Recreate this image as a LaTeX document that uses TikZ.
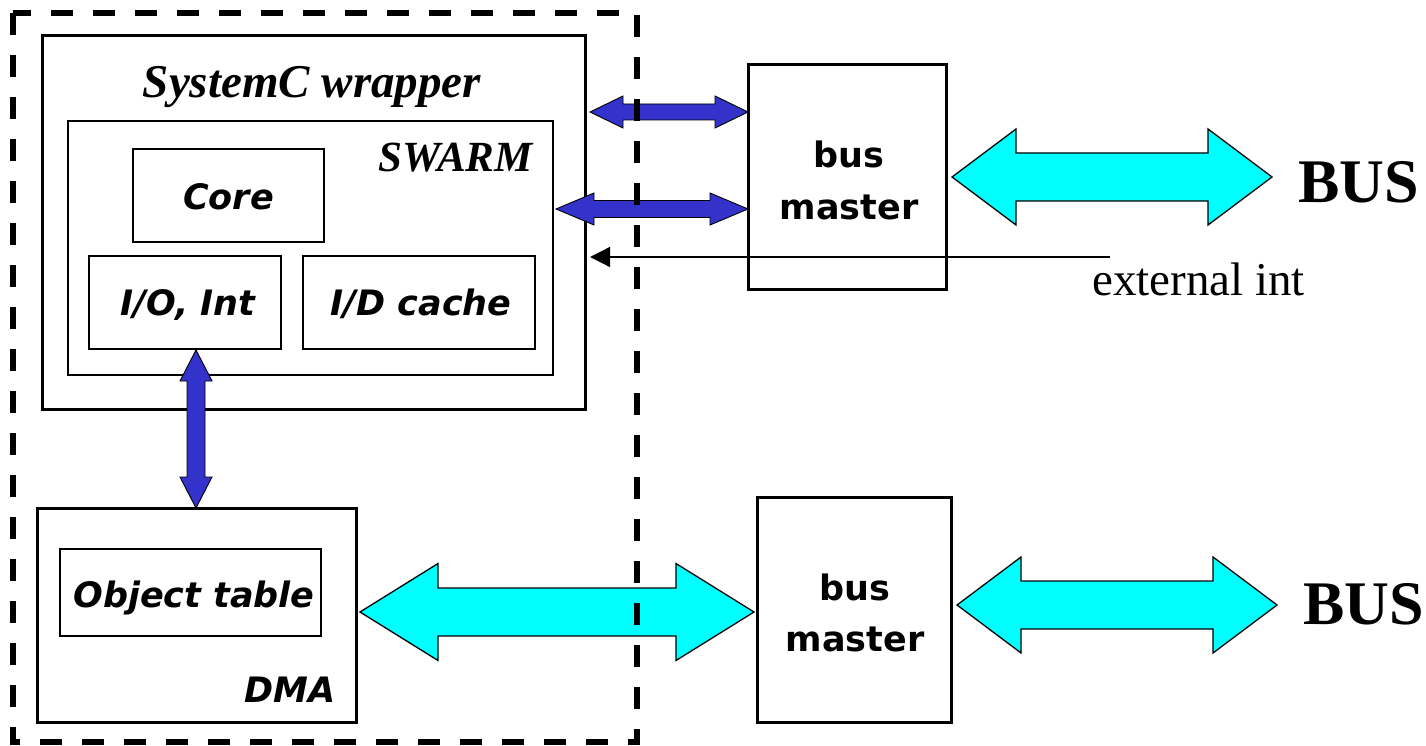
\documentclass[tikz,border=0pt]{standalone}
\usepackage{fontspec}
\setmainfont{Liberation Serif}
\newfontfamily\verd{DejaVu Sans}
\usetikzlibrary{calc,arrows.meta}
\definecolor{busblue}{HTML}{3333CC}
\definecolor{buscyan}{HTML}{00FFFF}

% horizontal double block arrow: left tip, right tip, head length, head half-height, shaft half-height, style
\newcommand\harrow[6]{%
  \draw[#6] (#1) -- ++(#3,#4) -- ++(0,{#5-#4}) -- ($(#2)+(-#3,#5)$) -- ++(0,{#4-#5})
    -- (#2) -- ++(-#3,-#4) -- ++(0,{#4-#5}) -- ($(#1)+(#3,-#5)$) -- ++(0,{#5-#4}) -- cycle;}
% vertical double block arrow: top tip, bottom tip, head length, head half-width, shaft half-width, style
\newcommand\varrow[6]{%
  \draw[#6] (#1) -- ++(#4,-#3) -- ++({#5-#4},0) -- ($(#2)+(#5,#3)$) -- ++({#4-#5},0)
    -- (#2) -- ++(-#4,#3) -- ++({#4-#5},0) -- ($(#1)+(-#5,-#3)$) -- ++({#5-#4},0) -- cycle;}

\tikzset{
  thickbox/.style={draw, line width=3pt, anchor=north west, inner sep=0pt, outer sep=0pt},
  thinbox/.style={draw, line width=1.3pt, anchor=north west, inner sep=0pt, outer sep=0pt},
  verdlabel/.style={font=\verd\bfseries\itshape\fontsize{35}{38}\selectfont, inner sep=0pt},
  masterlabel/.style={font=\verd\bfseries\fontsize{35}{50}\selectfont, inner sep=0pt, align=center},
  timeslabel/.style={font=\bfseries\itshape\fontsize{47}{50}\selectfont, inner sep=0pt},
  buslabel/.style={font=\bfseries\fontsize{62}{66}\selectfont, inner sep=0pt},
  bluearrow/.style={fill=busblue, draw=black, line width=0.9pt, line join=miter},
  cyanarrow/.style={fill=buscyan, draw=black, line width=1.3pt, line join=miter},
  frame/.style={draw, line width=5.5pt, dash pattern=on 22pt off 20pt},
}

\begin{document}
\begin{tikzpicture}[x=1pt,y=1pt]
\useasboundingbox (0,0) rectangle (1426,-746);

% boxes
\node[thickbox, minimum width=543, minimum height=373] (wrap) at (42,-36) {};
\node[thinbox, minimum width=485, minimum height=254] (swarm) at (68,-121) {};
\node[thinbox, minimum width=191, minimum height=93] (core) at (133,-149) {};
\node[thinbox, minimum width=192, minimum height=93] (io) at (89,-256) {};
\node[thinbox, minimum width=232, minimum height=93] (cache) at (303,-256) {};
\node[thickbox, minimum width=319, minimum height=214] (dma) at (37,-508) {};
\node[thinbox, minimum width=261, minimum height=87] (objtab) at (60,-549) {};
\node[thickbox, minimum width=198, minimum height=224] (bm1) at (748,-65) {};
\node[thickbox, minimum width=194, minimum height=225] (bm2) at (757,-497) {};

% labels
\node[timeslabel, anchor=base] (wraplbl) at (312,-98) {SystemC wrapper};
\node[timeslabel, font=\bfseries\itshape\fontsize{43}{45}\selectfont, anchor=base east] (swarmlbl) at (533,-172) {SWARM};
\node[verdlabel, anchor=base] (corelbl) at (core.center |- 0,-210) {Core};
\node[verdlabel, anchor=base] (iolbl) at (188,-315) {I/O, Int};
\node[verdlabel, anchor=base] (cachelbl) at (421,-315) {I/D cache};
\node[verdlabel, anchor=base] (objlbl) at (194,-607) {Object table};
\node[verdlabel, anchor=base east] (dmalbl) at (336,-702) {DMA};
\node[masterlabel, anchor=base] (bm1a) at (849,-168) {bus};
\node[masterlabel, anchor=base] (bm1b) at (849,-219) {master};
\node[masterlabel, anchor=base] (bm2a) at (855,-600) {bus};
\node[masterlabel, anchor=base] (bm2b) at (855,-651) {master};
\node[buslabel, anchor=base west] (bus1) at (1298,-202) {BUS};
\node[buslabel, anchor=base west] (bus2) at (1303,-624) {BUS};
\node[font=\fontsize{47}{50}\selectfont, inner sep=0pt, anchor=base west] (extlbl) at (1092,-295) {external int};

% connector end points
\coordinate (a1l) at (590,-112);
\coordinate (a1r) at (bm1.west |- a1l);
\coordinate (a2l) at (556,-209);
\coordinate (a2r) at (bm1.west |- a2l);
\coordinate (vt) at (196,-350);
\coordinate (vb) at (dma.north -| vt);
\coordinate (c1l) at (952,-177);
\coordinate (c1r) at (1272,-177);
\coordinate (c2l) at (360,-612);
\coordinate (c2r) at (754,-612);
\coordinate (c3l) at (957,-605);
\coordinate (c3r) at (1277,-605);
\coordinate (intsrc) at (1110,-257);
\coordinate (intdst) at (590,-257);

% block arrows
\harrow{a1l}{a1r}{33}{16}{8}{bluearrow}
\harrow{a2l}{a2r}{38}{16}{8.5}{bluearrow}
\varrow{vt}{vb}{31}{16}{9}{bluearrow}
\harrow{c1l}{c1r}{64}{48}{24}{cyanarrow}
\harrow{c2l}{c2r}{78}{48.5}{24}{cyanarrow}
\harrow{c3l}{c3r}{64}{48}{24}{cyanarrow}

% external interrupt line
\draw[line width=1.3pt, -{Triangle[length=20pt,width=20pt]}] (intsrc) -- (intdst);

% dashed frame on top
\draw[frame] (13,-13) rectangle (637,-742);
\end{tikzpicture}
\end{document}
